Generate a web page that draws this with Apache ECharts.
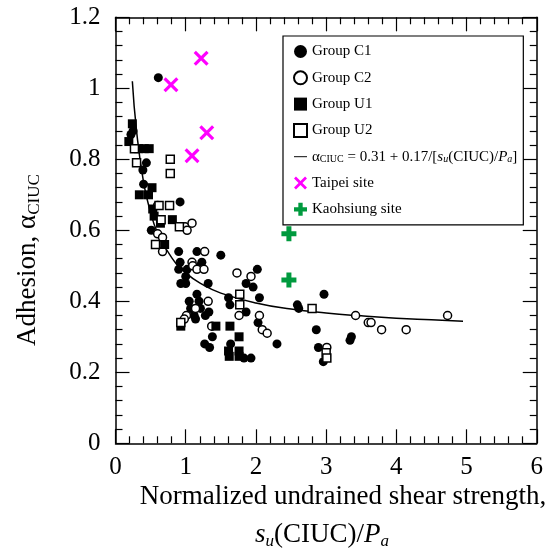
<!DOCTYPE html>
<html>
<head>
<meta charset="utf-8">
<script src="https://cdn.jsdelivr.net/npm/echarts@6/dist/echarts.min.js"></script>
<style>html,body{margin:0;padding:0;background:#fff;}#c{width:546px;height:551px;}</style>
</head>
<body>
<div id="c"></div>
<script>
const xTickLabels = ['0','1','2','3','4','5','6'];
const yTickLabels = ['0','0.2','0.4','0.6','0.8','1','1.2'];

const c1X = [0.61,0.25,0.22,0.44,0.39,0.40,0.92,0.51,0.90,1.16,1.50,0.92,1.23,1.21,0.90,1.02,1.00,0.93,1.00,1.32,2.02,1.86,1.96,1.61,1.63,2.05,2.03,2.30,1.16,1.05,1.19,1.07,1.21,1.33,1.12,1.14,1.28,1.38,1.27,1.34,1.64,1.83,1.93,1.86,2.59,2.61,2.97,2.86,2.89,2.96,3.36,3.34];
const c1Y = [1.03,0.88,0.87,0.79,0.77,0.73,0.68,0.60,0.54,0.54,0.53,0.51,0.51,0.50,0.49,0.49,0.47,0.45,0.45,0.45,0.49,0.45,0.44,0.41,0.39,0.41,0.34,0.28,0.42,0.40,0.40,0.38,0.38,0.37,0.36,0.35,0.36,0.30,0.28,0.27,0.28,0.24,0.24,0.37,0.39,0.38,0.42,0.32,0.27,0.23,0.30,0.29];

const c2X = [0.60,0.67,0.99,1.02,1.09,0.67,1.27,1.09,1.10,1.16,1.26,1.73,1.93,1.76,2.05,2.09,2.16,1.32,1.14,1.01,0.98,1.37,3.01,3.42,3.60,3.64,3.79,4.14,4.73,0.60];
const c2Y = [0.59,0.58,0.61,0.60,0.62,0.54,0.54,0.51,0.50,0.49,0.49,0.48,0.47,0.36,0.36,0.32,0.31,0.40,0.38,0.36,0.35,0.33,0.27,0.36,0.34,0.34,0.32,0.32,0.36,0.67];

const u1X = [0.24,0.19,0.33,0.41,0.48,0.34,0.47,0.52,0.53,0.55,0.64,0.81,0.70,0.93,1.43,1.63,1.76,1.61,1.62,1.76,1.76];
const u1Y = [0.90,0.85,0.83,0.83,0.83,0.70,0.70,0.72,0.66,0.64,0.62,0.63,0.56,0.33,0.33,0.33,0.30,0.26,0.245,0.26,0.245];

const u2X = [0.27,0.30,0.78,0.78,0.62,0.77,0.65,0.91,0.57,1.77,1.77,0.93,2.80,3.00,3.01];
const u2Y = [0.83,0.79,0.80,0.76,0.67,0.67,0.63,0.61,0.56,0.42,0.39,0.34,0.38,0.255,0.24];

const fitX = [0.24,0.3,0.4,0.5,0.6,0.8,1.0,1.25,1.5,2.0,2.5,3.0,3.5,4.0,4.5,4.95];
const fitY = [1.02,0.88,0.735,0.65,0.593,0.523,0.48,0.446,0.423,0.395,0.378,0.367,0.359,0.3525,0.348,0.344];

const taipeiX = [0.79,1.22,1.09,1.30];
const taipeiY = [1.01,1.085,0.81,0.875];

const kaohX = [2.47,2.47];
const kaohY = [0.59,0.46];

const zip = (a,b) => a.map((v,i)=>[v,b[i]]);
const FONT = 'Liberation Serif';
const XP = 'path://M0,3 L3,0 L10,7 L17,0 L20,3 L13,10 L20,17 L17,20 L10,13 L3,20 L0,17 L7,10 Z';
const PLUS = 'path://M7,0 L14,0 L14,7 L21,7 L21,14 L14,14 L14,21 L7,21 L7,14 L0,14 L0,7 L7,7 Z';
const LINEICON = 'path://M0,0 L40,0 L40,3 L0,3 Z';

const axisCommon = {
  min: 0,
  axisLine: {show: true, onZero: false, lineStyle: {color: '#000', width: 1.5}},
  axisTick: {show: true, inside: true, length: 14, lineStyle: {color: '#000', width: 1.2}},
  minorTick: {show: true, splitNumber: 5, length: 7, lineStyle: {color: '#000', width: 1.2}},
  splitLine: {show: false},
  minorSplitLine: {show: false}
};

const chart = echarts.init(document.getElementById('c'), null, {renderer: 'canvas'});
chart.setOption({
  animation: false,
  backgroundColor: '#fff',
  grid: {left: 115.5, top: 17.3, right: 3, bottom: 107.7, containLabel: false},
  xAxis: [
    Object.assign({}, axisCommon, {type: 'value', position: 'bottom', max: 6, interval: 1,
      axisLabel: {show: true, margin: 12, color: '#000', fontFamily: FONT, fontSize: 25,
        formatter: (v, i) => xTickLabels[i]}}),
    Object.assign({}, axisCommon, {type: 'value', position: 'top', max: 6, interval: 1,
      axisLabel: {show: false}})
  ],
  yAxis: [
    Object.assign({}, axisCommon, {type: 'value', position: 'left', max: 1.2, interval: 0.2,
      axisLabel: {show: true, margin: 15, color: '#000', fontFamily: FONT, fontSize: 25,
        formatter: (v, i) => yTickLabels[i]}}),
    Object.assign({}, axisCommon, {type: 'value', position: 'right', max: 1.2, interval: 0.2,
      axisLabel: {show: false}})
  ],
  legend: {
    orient: 'vertical', left: 283, top: 36,
    padding: [8, 6, 8, 10], itemGap: 11.3, itemWidth: 13, itemHeight: 13,
    borderColor: '#000', borderWidth: 1.2, backgroundColor: '#fff',
    data: ['Group C1','Group C2','Group U1','Group U2',{name: 'fit', icon: LINEICON},'Taipei site','Kaohsiung site'],
    formatter: function(name){
      if (name === 'fit') return '{a|α}{sub|CIUC}{a| = 0.31 + 0.17/[}{i|s}{subi|u}{a|(CIUC)/}{i|P}{subi|a}{a|]}';
      return name;
    },
    textStyle: {fontFamily: FONT, fontSize: 15, color: '#000',
      rich: {
        a: {fontFamily: FONT, fontSize: 15, color: '#000', lineHeight: 15},
        i: {fontFamily: FONT, fontSize: 15, fontStyle: 'italic', color: '#000', lineHeight: 15},
        sub: {fontFamily: FONT, fontSize: 10, color: '#000', verticalAlign: 'bottom', lineHeight: 8},
        subi: {fontFamily: FONT, fontSize: 10, fontStyle: 'italic', color: '#000', verticalAlign: 'bottom', lineHeight: 8}
      }}
  },
  series: [
    {name: 'fit', type: 'line', data: zip(fitX, fitY), smooth: true, symbol: 'none', showSymbol: false,
      lineStyle: {color: '#000', width: 1.5}, itemStyle: {color: '#000'}, z: 2},
    {name: 'Group C1', type: 'scatter', data: zip(c1X, c1Y), symbol: 'circle', symbolSize: 9,
      itemStyle: {color: '#000', opacity: 1}, z: 3},
    {name: 'Group C2', type: 'scatter', data: zip(c2X, c2Y), symbol: 'circle', symbolSize: 8,
      itemStyle: {color: '#fff', borderColor: '#000', borderWidth: 1.5, opacity: 1}, z: 3},
    {name: 'Group U1', type: 'scatter', data: zip(u1X, u1Y), symbol: 'rect', symbolSize: 9,
      itemStyle: {color: '#000', opacity: 1}, z: 3},
    {name: 'Group U2', type: 'scatter', data: zip(u2X, u2Y), symbol: 'rect', symbolSize: 8,
      itemStyle: {color: '#fff', borderColor: '#000', borderWidth: 1.5, opacity: 1}, z: 3},
    {name: 'Taipei site', type: 'scatter', data: zip(taipeiX, taipeiY), symbol: XP, symbolSize: 15,
      itemStyle: {color: '#ff00ff', opacity: 1}, z: 4},
    {name: 'Kaohsiung site', type: 'scatter', data: zip(kaohX, kaohY), symbol: PLUS, symbolSize: 15,
      itemStyle: {color: '#009a3e', opacity: 1}, z: 4}
  ],
  graphic: [
    {type: 'text', x: 28, y: 260, rotation: Math.PI/2,
      style: {text: '{a|Adhesion, α}{sub|CIUC}', align: 'center', verticalAlign: 'middle',
        rich: {a: {fontFamily: FONT, fontSize: 27, fill: '#000', lineHeight: 30},
               sub: {fontFamily: FONT, fontSize: 17, fill: '#000', verticalAlign: 'bottom', lineHeight: 18}}}},
    {type: 'text', x: 343, y: 497,
      style: {text: 'Normalized undrained shear strength,', align: 'center', verticalAlign: 'middle',
        fontFamily: FONT, fontSize: 27, fill: '#000'}},
    {type: 'text', x: 322, y: 535,
      style: {text: '{i|s}{si|u}{a|(CIUC)/}{i|P}{si|a}', align: 'center', verticalAlign: 'middle',
        rich: {a: {fontFamily: FONT, fontSize: 27, fill: '#000', lineHeight: 30},
               i: {fontFamily: FONT, fontSize: 27, fontStyle: 'italic', fill: '#000', lineHeight: 30},
               si: {fontFamily: FONT, fontSize: 17, fontStyle: 'italic', fill: '#000', verticalAlign: 'bottom', lineHeight: 19}}}}
  ]
});
</script>
</body>
</html>
